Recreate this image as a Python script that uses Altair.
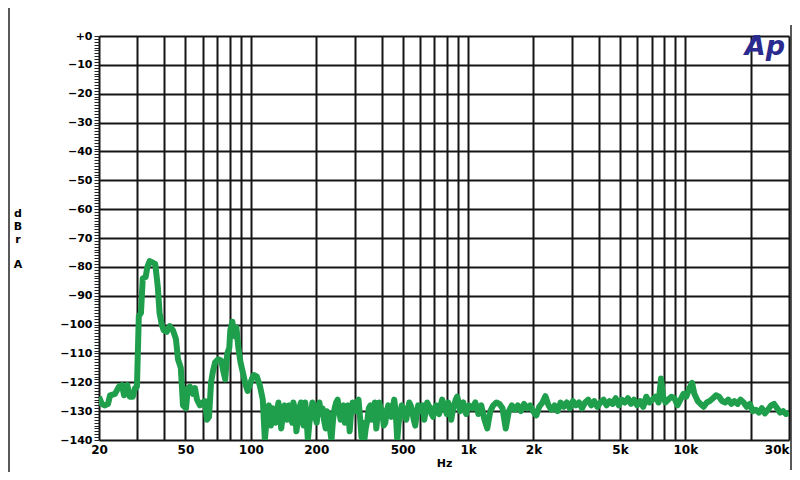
import altair as alt
import pandas as pd

# ---- data (frequency in Hz, level in dBr A) ----
freq_low = [20, 20.6, 21.2, 22, 22.5, 23.7, 24.7, 25.5, 26.1, 27.0, 27.7, 28.6, 29.3, 29.9,
            30.5, 31.2, 31.8, 32.8, 33.4, 34.2, 35.3, 36.3, 37.3, 38.0, 38.9, 39.7, 41.0,
            42.3, 43.8, 45.2, 46.2, 47.6, 48.7, 50.3, 51.3, 52.4, 54.1, 55.3, 56.5, 58.3,
            60.1, 61.5, 62.8, 64.2, 65.6, 67.0, 68.5, 70.8, 73.1, 74.6, 76.2, 77.9, 79.6,
            80.4, 82.2, 84.0, 85.8, 87.6, 89.6, 91.5, 94.7, 96.7, 98.8, 100.9, 103.1, 106.5,
            109.9, 113.5, 116, 118.5, 121, 123.6]
level_low = [-125, -127.5, -128, -127.5, -124.5, -124, -121.5, -121, -124.5, -121, -125, -125, -122, -121.5,
             -97, -96, -84, -83.5, -80, -78, -78.5, -79, -87, -96, -100, -102, -102.5,
             -100.5, -102, -105, -112, -115, -128, -129, -122, -121.5, -124, -122, -126, -128,
             -127, -126.5, -133, -132, -120, -116, -113, -112, -112.5, -116, -119, -110, -108,
             -102, -99, -104, -101, -108, -113, -116, -121, -123, -121, -119, -117.5, -118,
             -121, -126, -140, -132, -128, -135]

freq_mid = [126, 128, 130, 132, 134, 136, 138, 140, 143, 145, 147, 150, 152, 155, 157, 160,
            162, 165, 167, 170, 172, 175, 178, 180, 183, 186, 189, 192, 195, 198, 201, 204,
            207, 210, 214, 217, 221, 224, 228, 231, 235, 239, 243, 247, 251, 255, 259, 263,
            267, 271, 276, 280, 285, 289, 294, 298, 303, 308, 313, 318, 323, 328, 333, 338,
            344, 349, 355, 360, 366, 372, 378, 384, 390, 396, 403, 409, 416, 422, 429, 436,
            443, 450, 457, 464, 472, 479, 487, 495, 503, 511, 519, 527, 536, 544, 553, 562,
            571, 580, 589, 598, 608, 618, 628, 638, 648, 658, 669, 679, 690, 701, 713, 724,
            736, 748, 760, 772, 784, 797, 810, 823, 836, 849, 863, 877, 891, 905, 920, 935,
            950, 965, 980, 995]
level_mid = [-129, -131, -134, -130, -127, -131, -136, -132, -128, -130, -133, -128, -130, -134, -127, -130,
             -137, -133, -129, -127, -131, -135, -127, -131, -140, -134, -131, -127, -128, -132, -134, -129,
             -127, -131, -129, -133, -136, -130, -131, -136, -140, -133, -129, -127, -126, -130, -133, -129,
             -128, -134, -131, -128, -137, -131, -127, -129, -130, -127, -126, -132, -139, -134, -140, -136,
             -133, -129, -128, -133, -131, -127, -136, -131, -127, -129, -130, -135, -134, -130, -128, -131,
             -132, -129, -126, -130, -140, -134, -131, -128, -129, -131, -133, -130, -127, -128, -130, -133,
             -135, -131, -128, -129, -130, -128, -133, -130, -127, -128, -129, -131, -132, -129, -128, -130,
             -131, -128, -126, -128, -129, -131, -127, -129, -133, -130, -128, -126, -125, -127, -130, -128,
             -127, -129, -131, -129]

freq_high = [1010, 1045, 1080, 1115, 1150, 1190, 1225, 1265, 1305, 1350, 1395, 1440, 1490, 1540,
             1590, 1640, 1695, 1750, 1810, 1870, 1930, 1990, 2060, 2125, 2200, 2270, 2345, 2420,
             2500, 2580, 2665, 2755, 2845, 2940, 3035, 3135, 3240, 3345, 3455, 3570, 3690, 3810,
             3935, 4065, 4200, 4340, 4480, 4630, 4780, 4940, 5100, 5270, 5440, 5620, 5810, 6000,
             6200, 6400, 6610, 6830, 7060, 7290, 7530, 7730, 7900, 8100, 8350, 8620, 8900, 9200,
             9500, 9800, 10100, 10450, 10740, 11000, 11400, 11750, 12150, 12550, 12950, 13400,
             13850, 14300, 14750, 15250, 15750, 16300, 16800, 17400, 17950, 18550, 19150, 19800,
             20450, 21100, 21800, 22500, 23250, 24000, 24800, 25600, 26450, 27300, 28200, 29100, 30000]
level_high = [-128, -129, -127, -131, -128, -133, -136, -130, -128, -127, -127.5, -129, -136, -130,
              -128, -129.5, -128, -130, -127.5, -129, -128, -130, -131.5, -128.5, -127, -124.8, -128, -129.5,
              -128, -130, -127, -128.5, -127, -129, -126.5, -128, -127, -129, -127, -126, -128, -126.5,
              -128.5, -127, -126, -128, -126.5, -127.5, -125.5, -128, -126, -127, -125.5, -127.5, -126, -128,
              -126.5, -128.5, -125, -127, -126, -125, -127, -118.7, -125, -127, -126, -125, -125.5, -128,
              -126, -124, -125, -122, -120.2, -124, -126.5, -127.5, -128.5, -127, -126.5, -125.5,
              -124.5, -125, -126.5, -127, -126, -127.5, -126.5, -127.5, -126, -127, -128.5, -127.5,
              -130, -129.5, -130.5, -129, -130.8, -129.5, -128, -127.5, -129, -130.5, -130, -131, -130.5]

x_grid = [20, 30, 40, 50, 60, 70, 80, 90, 100, 200, 300, 400, 500, 600, 700, 800, 900,
          1000, 2000, 3000, 4000, 5000, 6000, 7000, 8000, 9000, 10000, 20000, 30000]
x_label_values = [20, 50, 100, 200, 500, 1000, 2000, 5000, 10000, 30000]
x_label_texts = ["20", "50", "100", "200", "500", "1k", "2k", "5k", "10k", "30k"]
y_ticks = list(range(-140, 1))
y_title_upper = ["d", "B", "r"]
y_title_lower = "A"

df = pd.DataFrame({"f": freq_low + freq_mid + freq_high,
                   "db": level_low + level_mid + level_high})

label_expr = " : ".join(f"datum.value == {v} ? '{t}'" for v, t in zip(x_label_values, x_label_texts)) + " : ''"

FONT = "DejaVu Sans"
GRID = "#151515"

x_axis = alt.Axis(values=x_grid, labelExpr=label_expr, grid=True, gridColor=GRID, gridWidth=2,
                  ticks=False, domain=False, labelFont=FONT, labelFontWeight="bold", labelFontSize=12,
                  labelColor="black", labelPadding=4, labelOverlap=False, labelFlush=False,
                  labelAlign={"condition": {"test": "datum.value >= 30000", "value": "right"}, "value": "center"},
                  title="Hz", titleFont=FONT, titleFontWeight="bold", titleFontSize=11,
                  titleColor="black", titlePadding=2)

y_axis = alt.Axis(values=y_ticks, grid=True, gridColor=GRID, gridWidth=2,
                  gridOpacity={"condition": {"test": "datum.value % 10 !== 0", "value": 0}, "value": 1},
                  labelExpr="datum.value % 10 === 0 ? (datum.value === 0 ? '+0' : format(datum.value, 'd')) : ''",
                  ticks=True, tickSize=5, tickColor="#222", tickWidth=1, domain=False,
                  labelFont=FONT, labelFontWeight="bold", labelFontSize=11, labelColor="black",
                  labelPadding=2, labelOverlap=False, title="")

line = alt.Chart(df).mark_line(color="#1f9f4c", strokeWidth=6, strokeJoin="round", clip=True).encode(
    x=alt.X("f:Q", scale=alt.Scale(type="log", domain=[20, 30000], nice=False), axis=x_axis),
    y=alt.Y("db:Q", scale=alt.Scale(domain=[-140, 0], nice=False, zero=False), axis=y_axis),
    order="f:Q",
)

one = pd.DataFrame({"k": [0]})
left_border = alt.Chart(one).mark_rule(color="#222", strokeWidth=1.5).encode(
    x=alt.value(-90), y=alt.value(-28), y2=alt.value(436))
right_border = alt.Chart(one).mark_rule(color="#222", strokeWidth=1.5).encode(
    x=alt.value(692), y=alt.value(-11), y2=alt.value(434))

title_upper = alt.Chart(one).mark_text(text=y_title_upper, font=FONT, fontSize=11, fontWeight="bold",
                                       color="black", align="center", baseline="top", lineHeight=13).encode(
    x=alt.value(-81), y=alt.value(172))
title_lower = alt.Chart(one).mark_text(text=y_title_lower, font=FONT, fontSize=11, fontWeight="bold",
                                       color="black", align="center", baseline="top").encode(
    x=alt.value(-81), y=alt.value(223))

logo = alt.Chart(one).mark_text(text="Ap", font=FONT, fontSize=27, fontWeight="bold", fontStyle="italic",
                                color="#2a2a8f", align="right", baseline="alphabetic").encode(
    x=alt.value(686), y=alt.value(19))

chart = alt.layer(line, left_border, right_border, title_upper, title_lower, logo).properties(
    width=690, height=404,
    autosize=alt.AutoSizeParams(type="none"),
    padding={"left": 91, "top": 28, "right": 3, "bottom": 32},
    background="white",
).configure_view(stroke=None)

chart.save("out.html", embed_options={"renderer": "svg", "actions": False})
